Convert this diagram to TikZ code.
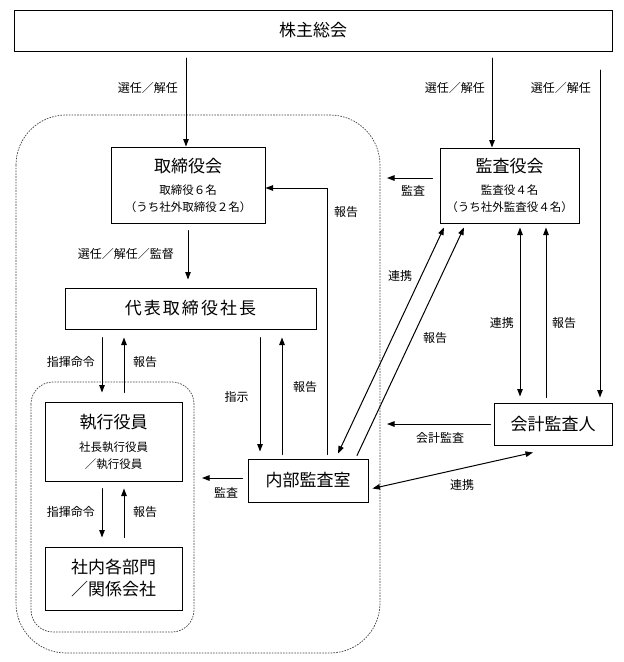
\documentclass[tikz,border=0pt]{standalone}
\usepackage{fontspec}
\setmainfont{Noto Sans CJK JP}
\usetikzlibrary{arrows.meta, calc}
\def\titlesize{\fontsize{17}{20}\selectfont}
\def\subsize{\fontsize{11.5}{17}\selectfont}
\def\lblsize{\fontsize{12}{14}\selectfont}
\tikzset{
  box/.style={draw, line width=1pt, inner sep=0pt, align=center, font=\titlesize},
  lbl/.style={inner sep=0pt, font=\lblsize},
  arr/.style={line width=1pt, -{Triangle[length=7.5pt, width=5.5pt]}},
  dbl/.style={line width=1pt, {Triangle[length=7.5pt, width=5.5pt]}-{Triangle[length=7.5pt, width=5.5pt]}},
  zone/.style={line width=0.7pt, line cap=butt, dash pattern=on 1.6pt off 1.2pt, black!75}
}

\begin{document}
\begin{tikzpicture}[x=1pt, y=-1pt, line cap=round]
  \useasboundingbox (0,0) rectangle (624,662);

  \draw[zone, rounded corners=50pt] (16,115) rectangle (380,653);
  \draw[zone, rounded corners=22pt] (31,382) rectangle (194,632);

  \node[box, minimum width=598pt, minimum height=41pt] (meeting) at (313,30.5) {株主総会};
  \node[box, minimum width=154pt, minimum height=76pt] (board) at (188,185)
    {取締役会\\[2pt]\subsize 取締役６名\\[-3pt]\subsize（うち社外取締役２名）};
  \node[box, minimum width=139pt, minimum height=75pt] (auditors) at (509.5,185.5)
    {監査役会\\[2pt]\subsize 監査役４名\\[-3pt]\subsize（うち社外監査役４名）};
  \node[box, minimum width=251pt, minimum height=41pt] (president) at (190.5,308.5)
    {\addfontfeature{LetterSpace=12}代表取締役社長};
  \node[box, minimum width=137pt, minimum height=79pt] (officers) at (113.5,441.5)
    {執行役員\\[3pt]\subsize 社長執行役員\\[-3pt]\subsize／執行役員};
  \node[box, minimum width=137pt, minimum height=63pt, font=\fontsize{17}{22}\selectfont] (depts) at (113.5,578.5)
    {社内各部門\\／関係会社};
  \node[box, minimum width=120pt, minimum height=43pt] (internal) at (308,480.5) {内部監査室};
  \node[box, minimum width=118pt, minimum height=42pt] (accountant) at (553,424) {会計監査人};

  \coordinate (s1) at (186,58);
  \coordinate (s2) at (492,58);
  \coordinate (s3) at (600,70);
  \draw[arr] (s1) -- (s1 |- board.north);
  \draw[arr] (s2) -- (s2 |- auditors.north);
  \draw[arr, shorten >=5pt] (s3) -- (s3 |- accountant.north);
  \node[lbl, anchor=east] (l-s1) at (178,88) {選任／解任};
  \node[lbl, anchor=east] (l-s2) at (485,88) {選任／解任};
  \node[lbl, anchor=east] (l-s3) at (591,88) {選任／解任};

  \draw[arr, shorten <=7pt, shorten >=8pt] (board.south) -- (board.south |- president.north);
  \node[lbl, anchor=east] (l-bp) at (174,254) {選任／解任／監督};

  \coordinate (c1) at (102,0);
  \coordinate (r1) at (124,0);
  \draw[arr, shorten <=8pt, shorten >=9pt] (c1 |- president.south) -- (c1 |- officers.north);
  \draw[arr, shorten <=9pt, shorten >=8pt] (r1 |- officers.north) -- (r1 |- president.south);
  \node[lbl, anchor=east] (l-c1) at (95,362) {指揮命令};
  \node[lbl, anchor=west] (l-r1) at (133,362) {報告};
  \draw[arr, shorten <=7pt, shorten >=9pt] (c1 |- officers.south) -- (c1 |- depts.north);
  \draw[arr, shorten <=9pt, shorten >=7pt] (r1 |- depts.north) -- (r1 |- officers.south);
  \node[lbl, anchor=east] (l-c2) at (95,512) {指揮命令};
  \node[lbl, anchor=west] (l-r2) at (133,512) {報告};

  \coordinate (i1) at (260,0);
  \coordinate (i2) at (282,0);
  \draw[arr, shorten <=8pt, shorten >=7pt] (i1 |- president.south) -- (i1 |- internal.north);
  \draw[arr, shorten <=4pt, shorten >=8pt] (i2 |- internal.north) -- (i2 |- president.south);
  \node[lbl] (l-i1) at (236.5,397) {指示};
  \node[lbl] (l-i2) at (305,387) {報告};

  \coordinate (k1) at (327,188);
  \draw[arr, shorten <=4pt] (k1 |- internal.north) -- (k1) -- (k1 -| board.east);
  \node[lbl, anchor=west] (l-k1) at (334,212) {報告};

  \coordinate (a1) at (387,178);
  \draw[arr, shorten <=7pt] (a1 -| auditors.west) -- (a1);
  \node[lbl] (l-a1) at (413,191) {監査};

  \draw[dbl] ($(internal.north)+(30,-5)$) -- ($(auditors.south)+(-65.5,4)$);
  \draw[arr] ($(internal.north)+(49,-3)$) -- ($(auditors.south)+(-45.5,4)$);
  \node[lbl] (l-d1) at (400,276) {連携};
  \node[lbl] (l-d2) at (435,338) {報告};

  \coordinate (v1) at (520,0);
  \coordinate (v2) at (546,0);
  \draw[dbl, shorten <=4pt, shorten >=6pt] (v1 |- auditors.south) -- (v1 |- accountant.north);
  \draw[arr, shorten <=5pt, shorten >=4pt] (v2 |- accountant.north) -- (v2 |- auditors.south);
  \node[lbl, anchor=east] (l-v1) at (514,323) {連携};
  \node[lbl, anchor=west] (l-v2) at (552,323) {報告};

  \coordinate (a2) at (387,424);
  \draw[arr, shorten <=3pt] (a2 -| accountant.west) -- (a2);
  \node[lbl] (l-a2) at (440,438) {会計監査};

  \draw[dbl] ($(internal.east)+(4,8)$) -- ($(accountant.south)+(-20,7)$);
  \node[lbl] (l-e1) at (462,485) {連携};

  \coordinate (a3) at (202,478);
  \draw[arr, shorten <=5pt] (a3 -| internal.west) -- (a3);
  \node[lbl] (l-a3) at (226,493) {監査};
\end{tikzpicture}
\end{document}
